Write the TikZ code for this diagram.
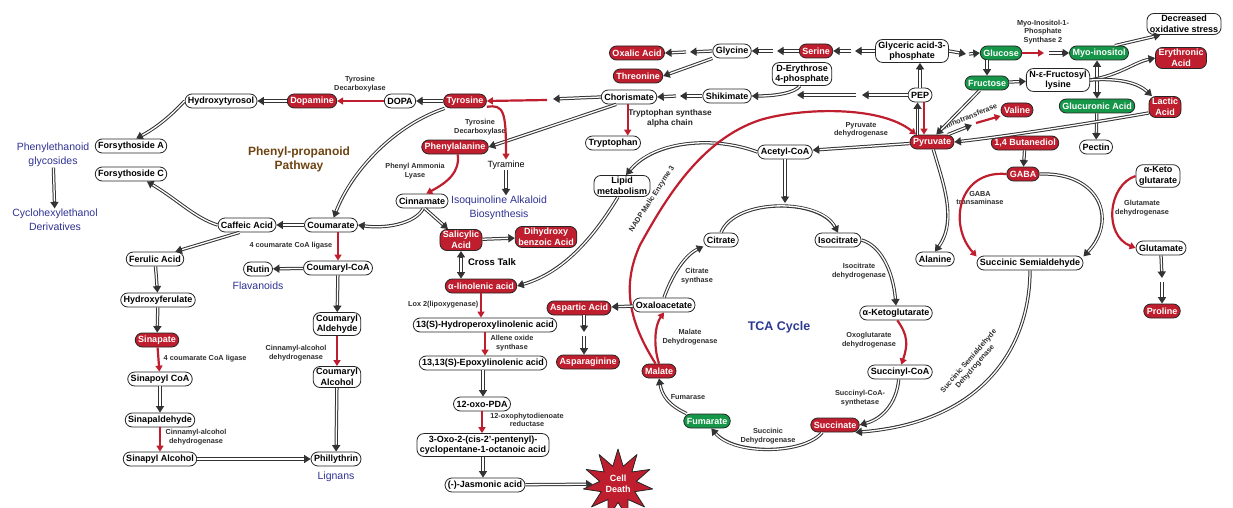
\documentclass[tikz,border=0pt]{standalone}
\usepackage{fontspec}
\setmainfont{Liberation Sans}
\usetikzlibrary{arrows.meta,shapes.geometric}
\definecolor{pathred}{RGB}{190,30,45}
\definecolor{pathgreen}{RGB}{22,150,72}
\definecolor{noteblue}{RGB}{46,49,146}
\definecolor{tcablue}{RGB}{43,57,144}
\definecolor{ppbrown}{RGB}{110,68,18}
\begin{document}
\begin{tikzpicture}[x=1pt,y=-1pt, line join=round,
	met/.style={draw=black!85, line width=0.8pt, rounded corners=7pt, fill=white, inner xsep=3pt, inner ysep=2pt, minimum height=14pt, align=center, font=\fontsize{9}{10.5}\selectfont\bfseries},
	redmet/.style={met, fill=pathred, text=white},
	grnmet/.style={met, fill=pathgreen, text=white},
	dbl/.style={draw=black!80, line width=3.3pt, -{Triangle[length=6.5pt,width=8pt]}, postaction={draw=white, line width=1.3pt, -, shorten >=7pt}},
	dblboth/.style={draw=black!80, line width=3.3pt, {Triangle[length=6.5pt,width=8pt]}-{Triangle[length=6.5pt,width=8pt]}, postaction={draw=white, line width=1.3pt, -, shorten >=7pt, shorten <=7pt}},
	redarr/.style={draw=pathred, line width=2.2pt, -{Triangle[length=6pt,width=7pt]}},
	enz/.style={font=\fontsize{7.3}{8.5}\selectfont\bfseries, text=black!82, align=center, inner sep=0.5pt},
	note/.style={font=\fontsize{10.5}{14}\selectfont, text=noteblue, align=center, inner sep=0.5pt}]
	\useasboundingbox (0,0) rectangle (1233,508);
	% phenylpropanoid side
	\node[met] (hyty) at (221,101) {Hydroxytyrosol};
	\node[redmet] (dopm) at (312,101) {Dopamine};
	\node[met] (dopa) at (400,101) {DOPA};
	\node[redmet] (tyr) at (465,101) {Tyrosine};
	\node[met] (chor) at (629,97) {Chorismate};
	\node[redmet] (phe) at (455,147) {Phenylalanine};
	\node[font=\fontsize{9}{10}\selectfont, inner sep=1pt] (tyram) at (506,165) {Tyramine};
	\node[note] (isoq) at (499,208) {Isoquinoline Alkaloid\\Biosynthesis};
	\node[met] (cinn) at (422,201) {Cinnamate};
	\node[met] (coum) at (331,225) {Coumarate};
	\node[redmet] (sal) at (461,240) {Salicylic\\Acid};
	\node[redmet] (dhb) at (546,237) {Dihydroxy\\benzoic Acid};
	\node[font=\fontsize{9.5}{11}\selectfont\bfseries, inner sep=0.5pt] (xtalk) at (492,262) {Cross Talk};
	\node[redmet] (alin) at (481,286) {α-linolenic acid};
	\node[met] (lipid) at (622,186) {Lipid\\metabolism};
	\node[met] (hpl) at (485,325) {13(S)-Hydroperoxylinolenic acid};
	\node[met] (epl) at (483,363) {13,13(S)-Epoxylinolenic acid};
	\node[met] (opda) at (482,404) {12-oxo-PDA};
	\node[met] (opc) at (483,445) {3-Oxo-2-(cis-2'-pentenyl)-\\cyclopentane-1-octanoic acid};
	\node[met] (ja) at (485,485) {(-)-Jasmonic acid};
	\node[star, star points=11, star point ratio=1.9, minimum size=70pt, inner sep=0pt, fill=pathred, draw=black!85, line width=0.8pt, text=white, align=center, font=\fontsize{9}{10.5}\selectfont\bfseries] (death) at (618,484) {Cell\\Death};
	\node[met] (fora) at (131,146) {Forsythoside A};
	\node[met] (forc) at (131,174) {Forsythoside C};
	\node[note] (phg) at (53,155) {Phenylethanoid\\glycosides};
	\node[note] (chd) at (55,220) {Cyclohexylethanol\\Derivatives};
	\node[met] (caff) at (247,225) {Caffeic Acid};
	\node[met] (fer) at (155,259) {Ferulic Acid};
	\node[met] (hfer) at (158,300) {Hydroxyferulate};
	\node[redmet] (sinp) at (157,340) {Sinapate};
	\node[met] (sinc) at (160,379) {Sinapoyl CoA};
	\node[met] (sinald) at (160,420) {Sinapaldehyde};
	\node[met] (sinalc) at (160,459) {Sinapyl Alcohol};
	\node[met] (ccoa) at (338,268) {Coumaryl-CoA};
	\node[met] (rutin) at (258,269) {Rutin};
	\node[note] (flav) at (258,286) {Flavanoids};
	\node[met] (cald) at (337,324) {Coumaryl\\Aldehyde};
	\node[met] (calc) at (337,377) {Coumaryl\\Alcohol};
	\node[met] (phil) at (336,459) {Phillythrin};
	\node[note] (lign) at (336,477) {Lignans};
	\node[font=\fontsize{12}{14}\selectfont\bfseries, text=ppbrown, align=center] (ppp) at (299,159) {Phenyl-propanoid\\Pathway};
	% glycolysis side
	\node[redmet] (oxa) at (637,53) {Oxalic Acid};
	\node[met] (gly) at (732,51) {Glycine};
	\node[redmet] (ser) at (816,51) {Serine};
	\node[met] (gap) at (912,51) {Glyceric acid-3-\\phosphate};
	\node[redmet] (thr) at (638,76) {Threonine};
	\node[met] (e4p) at (802,74) {D-Erythrose\\4-phosphate};
	\node[met] (shik) at (727,96) {Shikimate};
	\node[met] (pep) at (920,95) {PEP};
	\node[redmet] (pyr) at (932,142) {Pyruvate};
	\node[met] (acoa) at (785,152) {Acetyl-CoA};
	\node[met] (trp) at (613,143) {Tryptophan};
	% TCA cycle
	\node[met] (cit) at (721,240) {Citrate};
	\node[met] (icit) at (838,240) {Isocitrate};
	\node[met] (akg) at (896,313) {α-Ketoglutarate};
	\node[met] (scoa) at (900,372) {Succinyl-CoA};
	\node[redmet] (succ) at (835,425) {Succinate};
	\node[grnmet] (fum) at (707,421) {Fumarate};
	\node[redmet] (mal) at (659,371) {Malate};
	\node[met] (oaa) at (664,305) {Oxaloacetate};
	\node[redmet] (asp) at (579,308) {Aspartic Acid};
	\node[redmet] (asn) at (588,362) {Asparaginine};
	\node[font=\fontsize{12.5}{14}\selectfont\bfseries, text=tcablue] (tca) at (779,327) {TCA Cycle};
	% sugars and amino acids
	\node[grnmet] (glc) at (1001,53) {Glucose};
	\node[grnmet] (myo) at (1099,53) {Myo-inositol};
	\node[met] (dos) at (1184,24) {Decreased\\oxidative stress};
	\node[grnmet] (fru) at (987,83) {Fructose};
	\node[met] (nfl) at (1058,80) {N-ε-Fructosyl\\lysine};
	\node[grnmet] (gla) at (1097,106) {Glucuronic Acid};
	\node[met] (pec) at (1096,147) {Pectin};
	\node[redmet] (ery) at (1181,58) {Erythronic\\Acid};
	\node[redmet] (lac) at (1165,107) {Lactic\\Acid};
	\node[redmet] (val) at (1017,110) {Valine};
	\node[redmet] (btd) at (1025,143) {1,4 Butanediol};
	\node[redmet] (gaba) at (1023,174) {GABA};
	\node[met] (ala) at (935,259) {Alanine};
	\node[met] (ssa) at (1030,263) {Succinic Semialdehyde};
	\node[met] (akgb) at (1158,176) {α-Keto\\glutarate};
	\node[met] (glu) at (1161,248) {Glutamate};
	\node[redmet] (pro) at (1162,311) {Proline};
	% enzyme labels
	\node[enz] (tdca) at (360,84) {Tyrosine\\Decarboxylase};
	\node[enz] (tdcb) at (480,127) {Tyrosine\\Decarboxylase};
	\node[enz] (pal) at (415,171) {Phenyl Ammonia\\Lyase};
	\node[enz, anchor=east] (liga) at (333,246) {4 coumarate CoA ligase};
	\node[enz] (cada) at (296,353) {Cinnamyl-alcohol\\dehydrogenase};
	\node[enz, anchor=west] (ligb) at (163,359) {4 coumarate CoA ligase};
	\node[enz] (cadb) at (196,437) {Cinnamyl-alcohol\\dehydrogenase};
	\node[enz, anchor=east] (lox) at (479,305) {Lox 2(lipoxygenase)};
	\node[enz] (aos) at (512,343) {Allene oxide\\synthase};
	\node[enz] (opr) at (527,420) {12-oxophytodienoate\\reductase};
	\node[enz, font=\fontsize{8.3}{10}\selectfont\bfseries, text=black!85] (trps) at (670,118) {Tryptophan synthase\\alpha chain};
	\node[enz] (pdh) at (861,130) {Pyruvate\\dehydrogenase};
	\node[enz] (idh) at (859,271) {Isocitrate\\dehydrogenase};
	\node[enz] (ogdh) at (869,340) {Oxoglutarate\\dehydrogenase};
	\node[enz] (scs) at (860,398) {Succinyl-CoA-\\synthetase};
	\node[enz] (sdh) at (768,436) {Succinic\\Dehydrogenase};
	\node[enz] (fumase) at (688,397) {Fumarase};
	\node[enz] (mdh) at (690,337) {Malate\\Dehydrogenase};
	\node[enz] (cs) at (697,276) {Citrate\\synthase};
	\node[enz] (mips) at (1043,32) {Myo-Inositol-1-\\Phosphate\\Synthase 2};
	\node[enz, rotate=22] (amt) at (968,117) {Aminotransferase};
	\node[enz] (gabat) at (980,198) {GABA\\transaminase};
	\node[enz] (gdh) at (1142,208) {Glutamate\\dehydrogenase};
	\node[enz, rotate=57] (nme) at (652,199) {NADP Malic Enzyme 3};
	\node[enz, rotate=49] (ssadh) at (972,364) {Succinic Semialdehyde\\Dehydrogenase};
	% gaps between split arrows
	\coordinate (tyga) at (553,99);
	\coordinate (tygb) at (547,100);
	\coordinate (oxga) at (690,52);
	\coordinate (oxgb) at (686,52);
	\coordinate (glga) at (777,51);
	\coordinate (glgb) at (773,51);
	\coordinate (sega) at (855,51);
	\coordinate (segb) at (851,51);
	\coordinate (chga) at (680,96);
	\coordinate (chgb) at (676,96);
	\coordinate (e4ga) at (862,95);
	\coordinate (e4gb) at (856,95);
	\coordinate (e4in) at (797,95);
	\coordinate (glca) at (966,54);
	\coordinate (glcb) at (969,54);
	\coordinate (myga) at (1044,53);
	\coordinate (mygb) at (1049,53);
	\coordinate (amta) at (972,125);
	\coordinate (amtb) at (976,123);
	\coordinate (asga) at (584,332);
	\coordinate (asgb) at (584,336);
	\coordinate (prga) at (1162,278);
	\coordinate (prgb) at (1162,282);
	\coordinate (nfj) at (1097,76);
	\coordinate (tcain) at (785,203);
	\coordinate (ppa) at ([xshift=-2.5pt]pep.south);
	\coordinate (ppb) at ([xshift=4pt]pep.south);
	% phenylpropanoid connectors
	\draw[dbl] (dopm) -- (hyty);
	\draw[redarr] (dopa) -- (dopm);
	\draw[dbl] (tyr) -- (dopa);
	\draw[dbl] (chor.west) -- (tyga);
	\draw[redarr] (tygb) -- (tyr.east);
	\draw[dbl] (chor.210) -- (phe.east);
	\draw[redarr] (tyr.-15) .. controls (504,104) and (506,112) .. (tyram.north);
	\draw[dbl] (tyram) -- (tyram |- isoq.north);
	\draw[redarr] (phe.-70) .. controls (460,172) and (448,182) .. (cinn.60);
	\draw[dbl] (tyr.200) .. controls (395,125) and (352,170) .. (coum.70);
	\draw[dbl] (cinn.-80) .. controls (415,224) and (385,229) .. (coum.east);
	\draw[dbl] (cinn.-70) -- (sal.140);
	\draw[dbl] (sal) -- (dhb);
	\draw[dblboth] (sal.south) -- (sal.south |- alin.north);
	\draw[dbl] (lipid.250) .. controls (595,235) and (565,272) .. (alin.east);
	\draw[dbl] (acoa.west) .. controls (715,136) and (655,140) .. (lipid.70);
	\draw[redarr] (alin.south) -- (alin.south |- hpl.north);
	\draw[redarr] (hpl.south) -- (hpl.south |- epl.north);
	\draw[dbl] (epl.south) -- (epl.south |- opda.north);
	\draw[redarr] (opda.south) -- (opda.south |- opc.north);
	\draw[dbl] (opc.south) -- (opc.south |- ja.north);
	\draw[dbl] (ja) -- (death);
	\draw[dbl] (hyty.west) .. controls (178,108) and (163,124) .. (fora.55);
	\draw[dbl] (phg) -- (chd);
	\draw[dbl] (caff.west) .. controls (195,218) and (178,200) .. (forc.-25);
	\draw[dbl] (coum) -- (caff);
	\draw[dbl] (caff.225) -- (fer.20);
	\draw[dbl] (fer) -- (hfer);
	\draw[dbl] (hfer) -- (sinp);
	\draw[redarr] (sinp) -- (sinc);
	\draw[dbl] (sinc) -- (sinald);
	\draw[redarr] (sinald) -- (sinalc);
	\draw[dbl] (sinalc) -- (phil);
	\draw[redarr] (ccoa.north |- coum.south) -- (ccoa.north);
	\draw[dbl] (ccoa) -- (rutin);
	\draw[dbl] (ccoa) -- (cald);
	\draw[redarr] (cald) -- (calc);
	\draw[dbl] (calc) -- (phil);
	% glycolysis connectors
	\draw[dbl] (gly.west) -- (oxga);
	\draw[dbl] (oxgb) -- (oxa.east);
	\draw[dbl] (ser.west) -- (glga);
	\draw[dbl] (glgb) -- (gly.east);
	\draw[dbl] (gap.west) -- (sega);
	\draw[dbl] (segb) -- (ser.east);
	\draw[dbl] (gly.south west) -- (thr.east);
	\draw[dbl] (shik.west) -- (chga);
	\draw[dbl] (chgb) -- (chor.east);
	\draw[dbl] (pep.west) -- (e4ga);
	\draw[dbl] (e4gb) -- (e4in);
	\draw[dbl] (e4p.-100) .. controls (795,93) and (775,96) .. (shik.east);
	\draw[redarr] (chor.-100) -- (chor.-100 |- trp.north);
	\draw[dbl] (pep) -- (pep |- gap.south);
	\draw[dbl] (ppa |- pyr.north) -- (ppa);
	\draw[redarr] (ppb) -- (ppb |- pyr.north);
	\draw[dbl] (pyr) -- (acoa);
	\draw[dbl] (acoa.south) -- (tcain);
	\draw[redarr] (mal.115) .. controls (628,320) and (622,285) .. (640,245) .. controls (665,200) and (700,140) .. (760,120) .. controls (800,108) and (880,105) .. (pyr.155);
	% TCA connectors
	\draw[dbl] (cit.north) .. controls (735,198) and (820,198) .. (icit.north);
	\draw[dbl] (icit.east) .. controls (880,245) and (893,270) .. (akg.north);
	\draw[redarr] (akg.-80) .. controls (908,335) and (908,345) .. (scoa.80);
	\draw[dbl] (scoa.-100) .. controls (897,400) and (885,418) .. (succ.east);
	\draw[dbl] (ssa.south) .. controls (1030,345) and (985,422) .. (succ.-20);
	\draw[dbl] (succ.-150) .. controls (805,454) and (735,456) .. (fum.-60);
	\draw[dbl] (fum.160) .. controls (668,405) and (662,395) .. (mal.south);
	\draw[redarr] (mal.north) .. controls (653,345) and (655,325) .. (oaa.south);
	\draw[dbl] (oaa.north) .. controls (672,275) and (685,255) .. (cit.200);
	\draw[dbl] (oaa) -- (asp);
	\draw[dbl] (asp.south -| asga) -- (asga);
	\draw[dbl] (asgb) -- (asgb |- asn.north);
	% sugar and amino acid connectors
	\draw[dbl] (gap.east) -- (glca);
	\draw[dbl] (glcb) -- (glc.west);
	\draw[redarr] (glc.east) -- (myga);
	\draw[dbl] (mygb) -- (myo.west);
	\draw[dbl] (myo.25) -- (dos.205);
	\draw[dbl] (fru.north |- glc.south) -- (fru.north);
	\draw[dbl] (fru) -- (nfl);
	\draw[dbl] (fru.225) -- (pyr.60);
	\draw[dbl] (nfj) -- (nfj |- myo.south);
	\draw[dbl] (nfj) -- (nfj |- gla.north);
	\draw[dbl] (nfl.east) .. controls (1120,75) and (1135,62) .. (ery.west);
	\draw[dbl] (nfl.east) .. controls (1120,78) and (1138,83) .. (lac.140);
	\draw[dbl] (gla) -- (pec);
	\draw[dbl] (lac.200) .. controls (1080,125) and (1000,137) .. (pyr.east);
	\draw[dbl] (pyr.25) -- (amta);
	\draw[redarr] (amtb) -- (val.200);
	\draw[dbl] (btd) -- (gaba);
	\draw[redarr] (gaba.west) .. controls (958,170) and (948,225) .. (ssa.173);
	\draw[dbl] (gaba.east) .. controls (1100,172) and (1118,220) .. (ssa.7);
	\draw[dbl] (pyr.-80) .. controls (942,180) and (958,220) .. (ala.north);
	\draw[redarr] (akgb.west) .. controls (1108,185) and (1103,235) .. (glu.west);
	\draw[dbl] (glu.south) -- (prga);
	\draw[dbl] (prgb) -- (pro.north);
\end{tikzpicture}
\end{document}
